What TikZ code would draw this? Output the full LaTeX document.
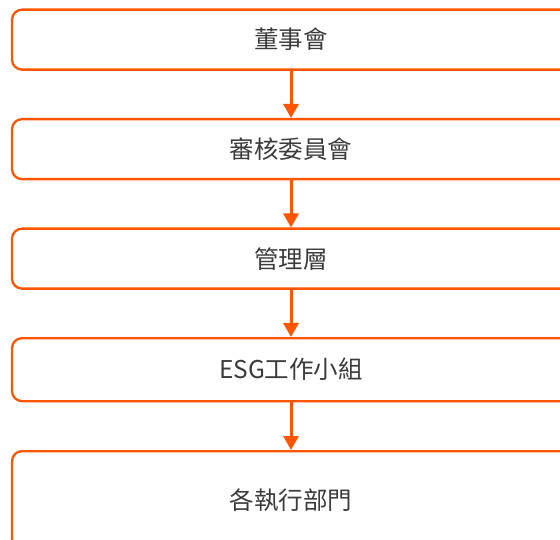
\documentclass[tikz,border=0pt]{standalone}
\usepackage{fontspec}
\setmainfont{Noto Sans CJK TC}
\usetikzlibrary{arrows.meta}
\definecolor{org}{RGB}{255,85,0}
\definecolor{txt}{RGB}{60,60,60}
\tikzset{
  boxnode/.style={draw=org, line width=2.3pt, rounded corners=10pt, minimum width=558pt,
    text=txt, font=\fontsize{24.5}{28}\selectfont, inner sep=0pt, anchor=north},
  flowarrow/.style={draw=org, line width=3pt, -{Triangle[width=15pt,length=14pt]}}
}
\begin{document}
\begin{tikzpicture}[x=1pt,y=-1pt]
\useasboundingbox (0,0) rectangle (560,540);
\node[boxnode, minimum height=60pt] (b1) at (291,8.5) {董事會};
\node[boxnode, minimum height=60pt] (b2) at (291,118) {審核委員會};
\node[boxnode, minimum height=60pt] (b3) at (291,227.5) {管理層};
\node[boxnode, minimum height=63pt] (b4) at (291,337) {ESG工作小組};
\node[boxnode, minimum height=98pt] (b5) at (291,450) {各執行部門};
\draw[flowarrow] (b1.south) -- (b2.north);
\draw[flowarrow] (b2.south) -- (b3.north);
\draw[flowarrow] (b3.south) -- (b4.north);
\draw[flowarrow] (b4.south) -- (b5.north);
\end{tikzpicture}
\end{document}
